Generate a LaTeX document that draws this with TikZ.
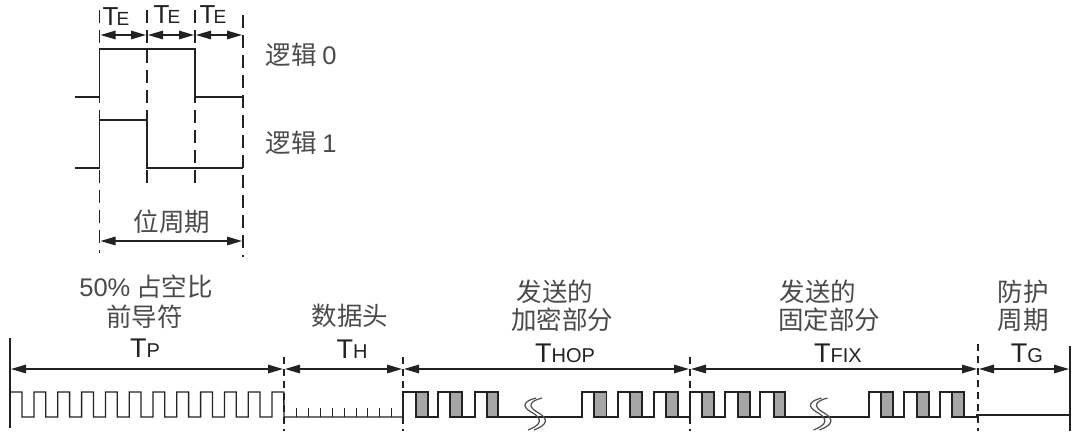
\documentclass[tikz,border=0pt]{standalone}
\usepackage{fontspec}
\setmainfont{Liberation Sans}
\newfontfamily\cjk{Noto Sans CJK SC}[Scale=1]
\usetikzlibrary{arrows.meta}
\definecolor{ink}{HTML}{222222}
\definecolor{txt}{HTML}{4A4A4A}
\definecolor{pulse}{HTML}{A6A6A6}
\newcommand{\sub}[2]{{\fontsize{27}{27}\selectfont #1}{\fontsize{20}{20}\selectfont #2}}
\newcommand{\smallsub}[2]{{\fontsize{26}{26}\selectfont #1}\kern-2pt{\fontsize{19}{19}\selectfont #2}}
\tikzset{
  wave/.style={draw=ink,line width=1.3pt,line join=miter},
  guide/.style={draw=ink,line width=1.1pt,dash pattern=on 13pt off 7pt},
  sep/.style={draw=ink,line width=1.1pt,dash pattern=on 7pt off 5pt},
  span/.style={draw=ink,line width=1.3pt,{Triangle[length=15pt,width=8.5pt]}-{Triangle[length=15pt,width=8.5pt]},shorten >=1pt,shorten <=1pt},
  label/.style={text=txt,inner sep=0pt,font=\cjk\fontsize{25.5}{25.5}\selectfont},
  tlabel/.style={text=ink,inner sep=0pt},
  grey/.style={fill=pulse,draw=ink,line width=1.1pt},
  squig/.style={draw=ink!80,line width=1.2pt}
}
\begin{document}
\begin{tikzpicture}[x=1pt,y=-1pt]
\useasboundingbox[fill=white] (0,0) rectangle (1072,432);
% timing guides, upper panel
\coordinate (g1a) at (99.5,10); \coordinate (g1b) at (99.5,253);
\coordinate (g2a) at (147,10);  \coordinate (g2b) at (147,183);
\coordinate (g3a) at (195,10);  \coordinate (g3b) at (195,183);
\coordinate (g4a) at (243,15);  \coordinate (g4b) at (243,257);
\draw[guide] (g1a) -- (g1b);
\draw[guide] (g2a) -- (g2b);
\draw[guide] (g3a) -- (g3b);
\draw[guide] (g4a) -- (g4b);
\coordinate (a1) at (99.5,35); \coordinate (a2) at (147,35); \coordinate (a3) at (195,35); \coordinate (a4) at (243,35);
\draw[span] (a1) -- (a2);
\draw[span] (a2) -- (a3);
\draw[span] (a3) -- (a4);
\coordinate (b1) at (99.5,241); \coordinate (b4) at (243,241);
\draw[span] (b1) -- (b4);
\draw[wave] (75,97) -| (99.5,49) -| (195,97) -- (243,97);
\draw[wave] (75,168) -| (99.5,120) -| (147,168) -- (243,168);
\node[tlabel] (te1) at (116,17) {\smallsub{T}{E}};
\node[tlabel] (te2) at (167,15) {\smallsub{T}{E}};
\node[tlabel] (te3) at (213,15) {\smallsub{T}{E}};
\node[label] (l0) at (301,55) {逻辑 {\rmfamily 0}};
\node[label] (l1) at (301,143) {逻辑 {\rmfamily 1}};
\node[label] (per) at (172,222) {位周期};
% lower panel boundaries
\coordinate (s0a) at (10,338); \coordinate (s0b) at (10,428);
\coordinate (s5a) at (1070,346); \coordinate (s5b) at (1070,431);
\draw[wave] (s0a) -- (s0b);
\draw[wave] (s5a) -- (s5b);
\foreach \n/\x/\t in {1/284/357,2/403/357,3/690/357,4/978/344}{
  \coordinate (s\n a) at (\x,\t);
  \coordinate (s\n b) at (\x,431);
  \draw[sep] (s\n a) -- (s\n b);
  \coordinate (m\n) at (\x,369);
}
\coordinate (m0) at (10,369); \coordinate (m5) at (1070,369);
\draw[span] (m0) -- (m1);
\draw[span] (m1) -- (m2);
\draw[span] (m2) -- (m3);
\draw[span] (m3) -- (m4);
\draw[span] (m4) -- (m5);
% preamble
\draw[wave] (10,392) -- (22,392)
  \foreach \k in {0,...,10}{
    -- ({22+23.8*\k},417) -- ({34+23.8*\k},417) -- ({34+23.8*\k},392) -- ({46+23.8*\k-0.2},392)
  } -- (284,417) -- (403,417);
% header ticks
\foreach \x in {296.5,308.5,320.5,332,344,356,367.5,379.5,391}{
  \draw[wave,line width=0.9pt] (\x,417) -- (\x,408);
}
% encrypted and fixed parts
\draw[wave] (403,417) |- (416,392) |- (438,417) |- (450,392) |- (475,417) |- (487,392) |- (582,417) |- (594,392) |- (618,417) |- (630,392) |- (654,417) |- (666,392) |- (690,417) |- (702,392) |- (725,417) |- (738,392) |- (760,417) |- (774,392) |- (869,417) |- (881,392) |- (904,417) |- (917,392) |- (940,417) |- (952,392) |- (977,417) -- (977,415) -- (1070,415);
% grey pulses
\foreach \a/\b in {416/428,450/462,487/498,594/606.5,630/642,666/678,702/714,738/750,774/785,881/893,917/929,952/964}{
  \path[grey] (\a,392) rectangle (\b,417);
}
% break marks
\begin{scope}[shift={(525,0)}]
  \draw[squig] (11,398) .. controls (-1,401) and (-4,406) .. (6,412) .. controls (19,419) and (16,425) .. (3,430);
  \draw[squig] (17,398) .. controls (5,401) and (2,406) .. (12,412) .. controls (25,419) and (22,425) .. (9,430);
\end{scope}
\begin{scope}[shift={(810.5,0)}]
  \draw[squig] (11,398) .. controls (-1,401) and (-4,406) .. (6,412) .. controls (19,419) and (16,425) .. (3,430);
  \draw[squig] (17,398) .. controls (5,401) and (2,406) .. (12,412) .. controls (25,419) and (22,425) .. (9,430);
\end{scope}
% labels
\node[label] (p1) at (146,287) {{\rmfamily 50\%} 占空比};
\node[label] (p2) at (144.5,317) {前导符};
\node[tlabel] (tp) at (145,348) {\sub{T}{P}};
\node[label] (h1) at (350,316) {数据头};
\node[tlabel] (th) at (352,349) {\sub{T}{H}};
\node[label] (e1) at (555,292) {发送的};
\node[label] (e2) at (562,320) {加密部分};
\node[tlabel] (thop) at (565,353) {\sub{T}{HOP}};
\node[label] (f1) at (818,292) {发送的};
\node[label] (f2) at (829,320) {固定部分};
\node[tlabel] (tfix) at (838,353) {\sub{T}{FIX}};
\node[label] (g1) at (1023,292) {防护};
\node[label] (g2) at (1023,320) {周期};
\node[tlabel] (tg) at (1027,353) {\sub{T}{G}};
\end{tikzpicture}
\end{document}
